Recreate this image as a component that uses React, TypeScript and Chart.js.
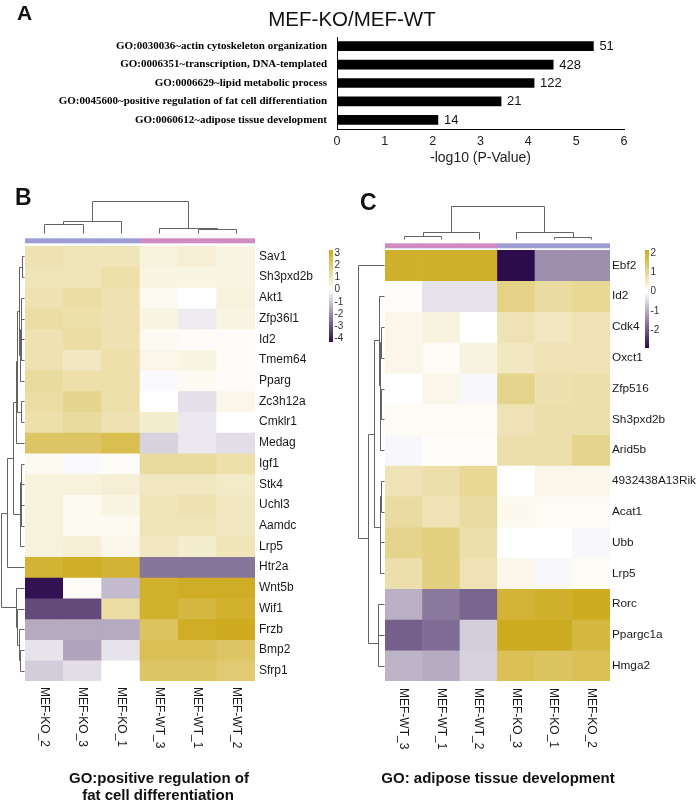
import React, { useEffect, useRef } from "react";
import { Chart, registerables } from "chart.js";
Chart.register(...registerables);

const SANS = '"Liberation Sans", Arial, Helvetica, sans-serif';
const SERIF = '"Liberation Serif", "Times New Roman", serif';

// ---------------- Panel A data ----------------
const goTerms = [
  "GO:0030036~actin cytoskeleton organization",
  "GO:0006351~transcription, DNA-templated",
  "GO:0006629~lipid metabolic process",
  "GO:0045600~positive regulation of fat cell differentiation",
  "GO:0060612~adipose tissue development",
];
const goNegLog10P = [5.36, 4.52, 4.12, 3.43, 2.11];
const goGeneCounts = [51, 428, 122, 21, 14];
const pAxisMax = 6;

// ---------------- Panel B data ----------------
const samplesB = ["MEF-KO_2", "MEF-KO_3", "MEF-KO_1", "MEF-WT_3", "MEF-WT_1", "MEF-WT_2"];
const groupsB = ["KO", "KO", "KO", "WT", "WT", "WT"];
const genesB = [
  "Sav1", "Sh3pxd2b", "Akt1", "Zfp36l1", "Id2", "Tmem64", "Pparg", "Zc3h12a", "Cmklr1", "Medag",
  "Igf1", "Stk4", "Uchl3", "Aamdc", "Lrp5", "Htr2a", "Wnt5b", "Wif1", "Frzb", "Bmp2", "Sfrp1",
];
const valuesB = [
  [1.1, 1.0, 1.0, 0.5, 0.6, 0.4],
  [1.0, 1.0, 1.2, 0.4, 0.4, 0.4],
  [1.1, 1.3, 1.1, 0.2, 0.0, 0.5],
  [1.3, 1.2, 1.1, 0.4, -0.35, 0.4],
  [1.1, 1.3, 1.1, 0.2, 0.1, 0.1],
  [1.1, 0.9, 1.2, 0.3, 0.4, 0.1],
  [1.4, 1.2, 1.2, -0.1, 0.2, 0.1],
  [1.3, 1.6, 1.2, 0.0, -0.55, 0.3],
  [1.2, 1.4, 1.1, 0.7, -0.4, 0.0],
  [2.2, 2.2, 2.5, -0.8, -0.4, -0.6],
  [0.2, -0.1, 0.1, 1.4, 1.4, 1.2],
  [0.5, 0.5, 0.6, 0.9, 0.9, 0.8],
  [0.5, 0.2, 0.4, 1.0, 1.1, 0.9],
  [0.5, 0.2, 0.2, 1.0, 1.0, 0.9],
  [0.5, 0.6, 0.3, 0.9, 0.7, 1.0],
  [2.9, 3.1, 2.9, -2.45, -2.45, -2.45],
  [-4.2, 0.1, -1.2, 3.0, 3.1, 3.1],
  [-3.2, -3.2, 1.3, 3.0, 2.7, 3.0],
  [-1.5, -1.5, -1.5, 2.3, 3.1, 3.2],
  [-0.5, -1.6, -0.5, 2.4, 2.4, 2.2],
  [-0.9, -0.6, 0.0, 2.2, 2.2, 2.0],
];
// linkage rows: [childA, childB, height]; leaves 0..n-1, merges numbered n, n+1, ...
const rowLinkB = [
  [0, 1, 2], [2, 3, 2.3], [4, 5, 2.5], [22, 23, 3], [24, 6, 3.6], [21, 25, 4.5],
  [7, 8, 2.8], [26, 27, 6.3], [28, 9, 8], [12, 13, 2.2], [11, 30, 2.6], [10, 31, 3],
  [32, 14, 3.4], [29, 33, 10.7], [34, 15, 16.7], [19, 20, 4], [18, 36, 4.8],
  [17, 37, 6.7], [16, 38, 8], [35, 39, 23],
];
const colLinkB = [[0, 1, 9.3], [6, 2, 12], [4, 5, 4.3], [3, 8, 5], [7, 9, 32.6]];
const rangeB: [number, number] = [-4.3, 3.25];
const colorbarTicksB = [3, 2, 1, 0, -1, -2, -3, -4];

// ---------------- Panel C data ----------------
const samplesC = ["MEF-WT_3", "MEF-WT_1", "MEF-WT_2", "MEF-KO_3", "MEF-KO_1", "MEF-KO_2"];
const groupsC = ["WT", "WT", "WT", "KO", "KO", "KO"];
const genesC = [
  "Ebf2", "Id2", "Cdk4", "Oxct1", "Zfp516", "Sh3pxd2b", "Arid5b",
  "4932438A13Rik", "Acat1", "Ubb", "Lrp5", "Rorc", "Ppargc1a", "Hmga2",
];
const valuesC = [
  [2.0, 2.0, 2.0, -2.9, -1.35, -1.35],
  [0.05, -0.35, -0.35, 1.15, 0.9, 1.0],
  [0.2, 0.3, 0.0, 0.7, 0.6, 0.7],
  [0.2, 0.1, 0.3, 0.6, 0.7, 0.7],
  [0.0, 0.2, -0.1, 1.1, 0.75, 0.8],
  [0.1, 0.1, 0.1, 0.7, 0.8, 0.8],
  [-0.1, 0.05, 0.05, 0.8, 0.8, 1.1],
  [0.7, 0.8, 1.0, 0.0, 0.2, 0.2],
  [0.9, 0.7, 0.9, 0.15, 0.1, 0.1],
  [1.1, 1.2, 0.8, 0.0, 0.0, -0.1],
  [0.8, 1.2, 0.7, 0.2, -0.1, 0.1],
  [-0.95, -1.6, -1.85, 1.9, 2.0, 2.1],
  [-1.9, -1.75, -0.6, 2.1, 2.1, 1.8],
  [-0.9, -1.0, -0.55, 1.6, 1.5, 1.6],
];
const rowLinkC = [
  [2, 3, 2.7], [4, 5, 3], [15, 6, 3.5], [14, 16, 4], [1, 17, 5], [7, 8, 2.7],
  [9, 10, 3.3], [19, 20, 4], [18, 21, 9.3], [11, 12, 5.5], [23, 13, 6], [22, 24, 16], [0, 25, 26],
];
const colLinkC = [[0, 1, 3.6], [6, 2, 7], [4, 5, 2.6], [3, 8, 7], [7, 9, 33.3]];
const rangeC: [number, number] = [-2.9, 2.15];
const colorbarTicksC = [2, 1, 0, -1, -2];

// ---------------- styling ----------------
const GOLD = [205, 170, 28];
const PURPLE = [45, 12, 78];
const groupColors: Record<string, string> = { KO: "#9d9cd5", WT: "#d08bc3" };

function heatColor(v: number, min: number, max: number) {
  const c = v >= 0 ? GOLD : PURPLE;
  const t = Math.max(0, Math.min(1, v >= 0 ? v / max : v / min));
  const r = Math.round(255 + (c[0] - 255) * t);
  const g = Math.round(255 + (c[1] - 255) * t);
  const b = Math.round(255 + (c[2] - 255) * t);
  return `rgb(${r},${g},${b})`;
}

function drawDendro(
  ctx: CanvasRenderingContext2D,
  link: number[][],
  n: number,
  leafPos: (i: number) => number,
  base: number,
  extent: number,
  orient: "top" | "left"
) {
  const maxH = Math.max(...link.map((l) => l[2]));
  const k = extent / maxH;
  const pos: number[] = [];
  const hgt: number[] = [];
  for (let i = 0; i < n; i++) {
    pos[i] = leafPos(i);
    hgt[i] = 0;
  }
  const px = (v: number) => Math.round(v) + 0.5;
  ctx.save();
  ctx.strokeStyle = "#636363";
  ctx.lineWidth = 1;
  link.forEach(([a, b, h], idx) => {
    const id = n + idx;
    pos[id] = (pos[a] + pos[b]) / 2;
    hgt[id] = h;
    const lvl = base - h * k;
    ctx.beginPath();
    if (orient === "left") {
      ctx.moveTo(px(base - hgt[a] * k), px(pos[a]));
      ctx.lineTo(px(lvl), px(pos[a]));
      ctx.lineTo(px(lvl), px(pos[b]));
      ctx.lineTo(px(base - hgt[b] * k), px(pos[b]));
    } else {
      ctx.moveTo(px(pos[a]), px(base - hgt[a] * k));
      ctx.lineTo(px(pos[a]), px(lvl));
      ctx.lineTo(px(pos[b]), px(lvl));
      ctx.lineTo(px(pos[b]), px(base - hgt[b] * k));
    }
    ctx.stroke();
  });
  ctx.restore();
}

type HeatCfg = {
  id: string;
  left: number;
  top: number;
  width: number;
  height: number;
  genes: string[];
  samples: string[];
  groups: string[];
  values: number[][];
  rowLink: number[][];
  colLink: number[][];
  range: [number, number];
  cbTicks: number[];
  pad: { left: number; top: number; bottom: number };
  axisWidth: number;
  labelPad: number;
  geneFont: number;
  annGap: number;
  annH: number;
  topGap: number;
  topH: number;
  leftW: number;
  cb: { x: number; y: number; w: number; h: number };
  sampleGap: number;
};

const cfgB: HeatCfg = {
  id: "B",
  left: 0,
  top: 180,
  width: 352,
  height: 623,
  genes: genesB,
  samples: samplesB,
  groups: groupsB,
  values: valuesB,
  rowLink: rowLinkB,
  colLink: colLinkB,
  range: rangeB,
  cbTicks: colorbarTicksB,
  pad: { left: 25, top: 66, bottom: 122 },
  axisWidth: 97,
  labelPad: 4,
  geneFont: 12,
  annGap: 2.7,
  annH: 5,
  topGap: 5,
  topH: 32.6,
  leftW: 23,
  cb: { x: 329, y: 70, w: 4, h: 92 },
  sampleGap: 6,
};

const cfgC: HeatCfg = {
  id: "C",
  left: 345,
  top: 180,
  width: 355,
  height: 623,
  genes: genesC,
  samples: samplesC,
  groups: groupsC,
  values: valuesC,
  rowLink: rowLinkC,
  colLink: colLinkC,
  range: rangeC,
  cbTicks: colorbarTicksC,
  pad: { left: 40, top: 70, bottom: 122 },
  axisWidth: 90,
  labelPad: 2,
  geneFont: 11.8,
  annGap: 1.7,
  annH: 5,
  topGap: 4,
  topH: 33.3,
  leftW: 26,
  cb: { x: 300, y: 70, w: 4, h: 98 },
  sampleGap: 7,
};

function BarPanel() {
  const ref = useRef<HTMLCanvasElement>(null);
  useEffect(() => {
    const countLabels = {
      id: "countLabels",
      afterDatasetsDraw(chart: any) {
        const ctx = chart.ctx;
        const meta = chart.getDatasetMeta(0);
        ctx.save();
        ctx.font = `13px ${SANS}`;
        ctx.fillStyle = "#111";
        ctx.textAlign = "left";
        ctx.textBaseline = "middle";
        meta.data.forEach((el: any, i: number) => {
          ctx.fillText(String(goGeneCounts[i]), el.x + 6, el.y + 0.5);
        });
        ctx.restore();
      },
    };
    const chart = new Chart(ref.current as HTMLCanvasElement, {
      type: "bar",
      data: {
        labels: goTerms,
        datasets: [{ data: goNegLog10P, backgroundColor: "#000", barThickness: 9 }],
      },
      options: {
        indexAxis: "y",
        responsive: false,
        animation: false,
        events: [],
        layout: { padding: { left: 0, right: 76, top: 37, bottom: 0 } },
        plugins: {
          legend: { display: false },
          tooltip: { enabled: false },
          title: { display: false },
        },
        scales: {
          x: {
            type: "linear",
            min: 0,
            max: pAxisMax,
            afterFit: (s: any) => {
              s.height = 46;
            },
            grid: { display: false, drawTicks: false },
            border: { display: true, color: "#000", width: 1 },
            ticks: { stepSize: 1, color: "#222", font: { family: SANS, size: 12.5 }, padding: 5 },
            title: {
              display: true,
              text: "-log10 (P-Value)",
              color: "#222",
              font: { family: SANS, size: 14 },
              padding: { top: 0, bottom: 8 },
            },
          },
          y: {
            type: "category",
            afterFit: (s: any) => {
              s.width = 337;
            },
            grid: { display: false, drawTicks: false },
            border: { display: true, color: "#000", width: 1 },
            ticks: {
              color: "#000",
              font: { family: SERIF, size: 11, weight: "bold" },
              padding: 10,
              autoSkip: false,
            },
          },
        },
      } as any,
      plugins: [countLabels],
    });
    return () => chart.destroy();
  }, []);
  return (
    <canvas
      ref={ref}
      width={700}
      height={175}
      style={{ position: "absolute", left: 0, top: 0, width: 700, height: 175 }}
    />
  );
}

function HeatPanel({ cfg }: { cfg: HeatCfg }) {
  const ref = useRef<HTMLCanvasElement>(null);
  useEffect(() => {
    const [min, max] = cfg.range;
    const decor = {
      id: "heatDecor" + cfg.id,
      afterDraw(chart: any) {
        const { ctx, chartArea: ca, scales } = chart;
        const xs = scales.x;
        const ys = scales.y;
        const colW = xs.getPixelForValue(1) - xs.getPixelForValue(0);
        // group annotation bar
        const annTop = ca.top - cfg.annGap - cfg.annH;
        cfg.samples.forEach((_, j) => {
          const cx = xs.getPixelForValue(j);
          ctx.fillStyle = groupColors[cfg.groups[j]];
          const l = cx - colW / 2;
          const w = j < cfg.samples.length - 1 ? colW + 0.6 : colW;
          ctx.fillRect(l, annTop, w, cfg.annH);
        });
        // dendrograms
        drawDendro(
          ctx,
          cfg.colLink,
          cfg.samples.length,
          (j) => xs.getPixelForValue(j),
          annTop - cfg.topGap,
          cfg.topH,
          "top"
        );
        drawDendro(
          ctx,
          cfg.rowLink,
          cfg.genes.length,
          (i) => ys.getPixelForValue(i),
          ca.left - 1.5,
          cfg.leftW,
          "left"
        );
        // colour key
        const { x, y, w, h } = cfg.cb;
        const grad = ctx.createLinearGradient(0, y, 0, y + h);
        const N = 40;
        for (let s = 0; s <= N; s++) {
          const v = max - ((max - min) * s) / N;
          grad.addColorStop(s / N, heatColor(v, min, max));
        }
        ctx.fillStyle = grad;
        ctx.fillRect(x, y, w, h);
        ctx.save();
        ctx.font = `10px ${SANS}`;
        ctx.fillStyle = "#333";
        ctx.textAlign = "left";
        ctx.textBaseline = "middle";
        cfg.cbTicks.forEach((t) => {
          const ty = y + ((max - t) / (max - min)) * h;
          ctx.fillText(String(t), x + w + 1.5, ty);
        });
        ctx.restore();
        // sample labels, rotated to read downward
        ctx.save();
        ctx.font = `12px ${SANS}`;
        ctx.fillStyle = "#1a1a1a";
        ctx.textAlign = "left";
        ctx.textBaseline = "middle";
        cfg.samples.forEach((s, j) => {
          ctx.save();
          ctx.translate(xs.getPixelForValue(j), ca.bottom + cfg.sampleGap);
          ctx.rotate(Math.PI / 2);
          ctx.fillText(s, 0, 0);
          ctx.restore();
        });
        ctx.restore();
      },
    };
    const datasets = cfg.genes.map((g, i) => ({
      label: g,
      data: cfg.samples.map(() => [i - 0.5, i + 0.5]),
      backgroundColor: cfg.values[i].map((v) => heatColor(v, min, max)),
      borderWidth: 0,
      barPercentage: 1,
      categoryPercentage: 1,
      grouped: false,
    }));
    const chart = new Chart(ref.current as HTMLCanvasElement, {
      type: "bar",
      data: { labels: cfg.samples, datasets },
      options: {
        responsive: false,
        animation: false,
        events: [],
        layout: { padding: { left: cfg.pad.left, top: cfg.pad.top, bottom: cfg.pad.bottom, right: 0 } },
        plugins: { legend: { display: false }, tooltip: { enabled: false }, title: { display: false } },
        scales: {
          x: { type: "category", display: false, offset: true, grid: { display: false } },
          y: {
            type: "linear",
            position: "right",
            reverse: true,
            min: -0.5,
            max: cfg.genes.length - 0.5,
            afterFit: (s: any) => {
              s.width = cfg.axisWidth;
            },
            afterBuildTicks: (s: any) => {
              s.ticks = cfg.genes.map((_, i) => ({ value: i }));
            },
            grid: { display: false, drawTicks: false },
            border: { display: false },
            ticks: {
              autoSkip: false,
              padding: cfg.labelPad,
              color: "#1a1a1a",
              font: { family: SANS, size: cfg.geneFont },
              callback: (v: any) => cfg.genes[v] ?? "",
            },
          },
        },
      } as any,
      plugins: [decor],
    });
    return () => chart.destroy();
  }, [cfg]);
  return (
    <canvas
      ref={ref}
      width={cfg.width}
      height={cfg.height}
      style={{ position: "absolute", left: cfg.left, top: cfg.top, width: cfg.width, height: cfg.height }}
    />
  );
}

function Txt({
  x,
  baseline,
  size,
  text,
  bold = true,
  align = "left",
}: {
  x: number;
  baseline: number;
  size: number;
  text: string;
  bold?: boolean;
  align?: "left" | "center";
}) {
  const top = baseline - 0.8465 * size;
  const style: React.CSSProperties = {
    position: "absolute",
    top,
    fontFamily: SANS,
    fontSize: size,
    lineHeight: `${size}px`,
    fontWeight: bold ? 700 : 400,
    color: "#111",
    whiteSpace: "nowrap",
  };
  if (align === "center") {
    style.left = x - 200;
    style.width = 400;
    style.textAlign = "center";
  } else {
    style.left = x;
  }
  return <div style={style}>{text}</div>;
}

export default function App() {
  return (
    <div
      style={{
        position: "absolute",
        left: 0,
        top: 0,
        width: 700,
        height: 803,
        background: "#fff",
        overflow: "hidden",
      }}
    >
      <BarPanel />
      <HeatPanel cfg={cfgB} />
      <HeatPanel cfg={cfgC} />
      <Txt x={17} baseline={20} size={21} text="A" />
      <Txt x={352} baseline={26.5} size={20.5} text="MEF-KO/MEF-WT" bold={false} align="center" />
      <Txt x={15} baseline={205} size={23} text="B" />
      <Txt x={360} baseline={210} size={23} text="C" />
      <Txt x={159} baseline={783} size={15} text="GO:positive regulation of" align="center" />
      <Txt x={158} baseline={800} size={15} text="fat cell differentiation" align="center" />
      <Txt x={498} baseline={783} size={15} text="GO: adipose tissue development" align="center" />
    </div>
  );
}
